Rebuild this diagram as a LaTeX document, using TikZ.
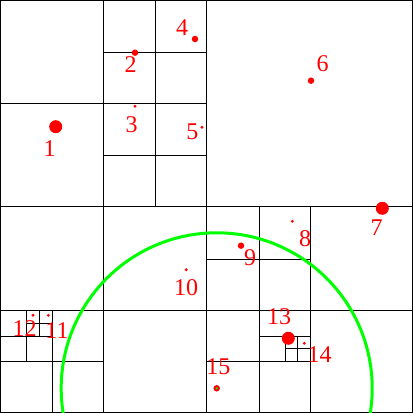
\documentclass[tikz,border=0pt]{standalone}
\usepackage{fontspec}
\setmainfont{Liberation Serif}
\begin{document}
\begin{tikzpicture}[x=1pt,y=-1pt,
  grid/.style={line width=1pt,black},
  bigdot/.style={circle,fill=red,inner sep=0pt,minimum size=13pt},
  middot/.style={circle,fill=red,inner sep=0pt,minimum size=6.5pt},
  smalldot/.style={circle,fill=red,inner sep=0pt,minimum size=3.2pt},
  lab/.style={text=red,inner sep=0pt,font=\fontsize{24}{24}\selectfont}]
\useasboundingbox (0,0) rectangle (413,413);
\fill[white] (0,0) rectangle (413,413);
% grid
\draw[grid] (0.5,0.5) rectangle (412.5,412.5);
\draw[grid] (206.5,0) -- (206.5,413);
\draw[grid] (0,206.5) -- (413,206.5);
% top-left quadrant
\draw[grid] (103.5,0) -- (103.5,206.5);
\draw[grid] (0,103.5) -- (206.5,103.5);
\draw[grid] (155,0) -- (155,206.5);
\draw[grid] (103.5,52) -- (206.5,52);
\draw[grid] (103.5,155) -- (206.5,155);
% bottom-left quadrant
\draw[grid] (103.5,206.5) -- (103.5,412.5);
\draw[grid] (0,310) -- (206.5,310);
\draw[grid] (52,310) -- (52,412.5);
\draw[grid] (0,361) -- (103.5,361);
\draw[grid] (26,310) -- (26,361);
\draw[grid] (0,336) -- (52,336);
\draw[grid] (39,310) -- (39,336);
\draw[grid] (26,323) -- (52,323);
% bottom-right quadrant
\draw[grid] (206.5,310) -- (412.5,310);
\draw[grid] (310,206.5) -- (310,412.5);
\draw[grid] (259,206.5) -- (259,412.5);
\draw[grid] (206.5,259) -- (310,259);
\draw[grid] (206.5,361) -- (310,361);
\draw[grid] (259,336) -- (310,336);
\draw[grid] (285,336) -- (285,361);
\draw[grid] (285,348.5) -- (310,348.5);
\draw[grid] (297.5,336) -- (297.5,361);
% green circle
\begin{scope}
\clip (0,0) rectangle (412.5,412.5);
\draw[green,line width=3pt] (216.7,388.3) circle[radius=155.5];
\end{scope}
% points
\node[bigdot] (p1) at (55.7,126.7) {};
\node[middot] (p2) at (135,52.7) {};
\node[smalldot] (p3) at (135,106.3) {};
\node[middot] (p4) at (195,39) {};
\node[smalldot] (p5) at (202,127.3) {};
\node[middot] (p6) at (311,80.7) {};
\node[bigdot] (p7) at (382.3,208.3) {};
\node[smalldot] (p8) at (292.3,221.3) {};
\node[middot] (p9) at (241,245.7) {};
\node[smalldot] (p10) at (186.3,269.7) {};
\node[smalldot] (p11) at (48.3,315.3) {};
\node[smalldot] (p12) at (33,315.3) {};
\node[bigdot] (p13) at (288.3,338.3) {};
\node[smalldot] (p14) at (304.3,343.3) {};
\node[middot] (p15) at (216.7,388.3) {};
\fill[green] (p15) circle[radius=1.2];
% labels
\node[lab] (l1) at (49.7,149) {1};
\node[lab] (l2) at (130.7,65) {2};
\node[lab] (l3) at (131.7,125) {3};
\node[lab] (l4) at (182,28) {4};
\node[lab] (l5) at (192.3,132) {5};
\node[lab] (l6) at (322.7,63.3) {6};
\node[lab] (l7) at (376.7,227.7) {7};
\node[lab] (l8) at (305,238.3) {8};
\node[lab] (l9) at (250,257.7) {9};
\node[lab] (l10) at (186,287.3) {10};
\node[lab] (l11) at (57,330.3) {11};
\node[lab] (l12) at (24.7,328.3) {12};
\node[lab] (l13) at (279,317) {13};
\node[lab] (l14) at (319.7,354.3) {14};
\node[lab] (l15) at (218.3,367) {15};
\end{tikzpicture}
\end{document}
